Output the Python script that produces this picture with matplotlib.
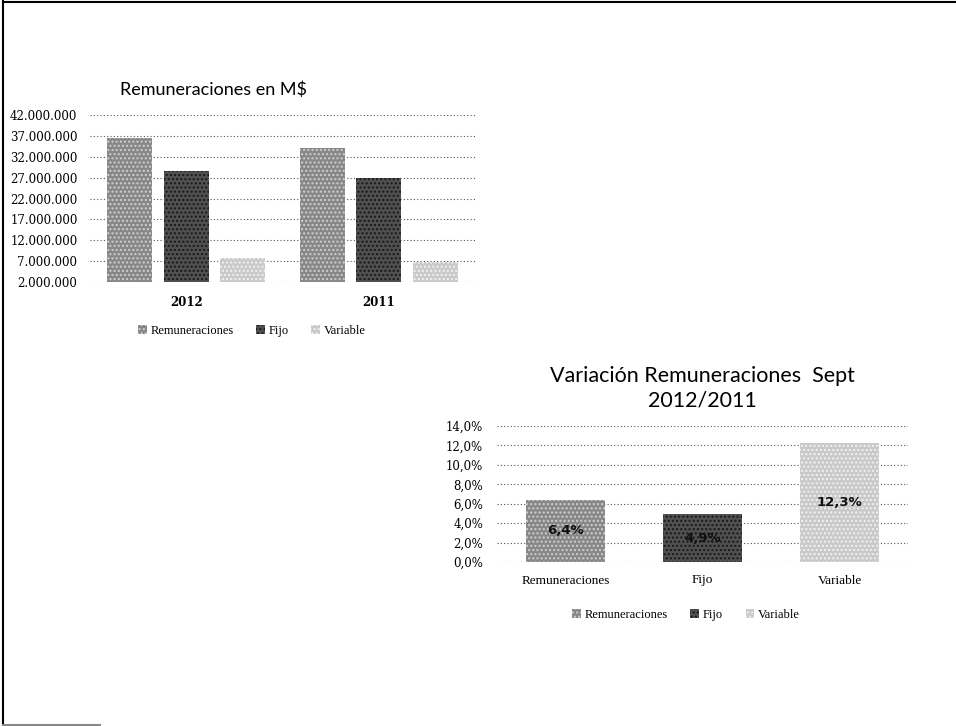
import matplotlib.pyplot as plt
from matplotlib.lines import Line2D
from matplotlib.ticker import FuncFormatter
import numpy as np

# remuneraciones por año (M$)
years = ['2012', '2011']
series = ['Remuneraciones', 'Fijo', 'Variable']
remuneraciones = [36400000, 34100000]
fijo = [28500000, 27000000]
variable = [7800000, 6700000]

# variación porcentual sept 2012/2011
var_labels = ['Remuneraciones', 'Fijo', 'Variable']
var_pct = [6.4, 4.9, 12.3]

colors = ['#878787', '#505050', '#c9c9c9']
hatch_cols = ['#d0d0d0', '#181818', '#f2f2f2']

serif = 'DejaVu Serif'
sans = 'Lato'

W, H = 956, 726
fig = plt.figure(figsize=(W / 100, H / 100), dpi=100)


def px_axes(x0, x1, ytop, ybot):
    return fig.add_axes([x0 / W, 1 - ybot / H, (x1 - x0) / W, (ybot - ytop) / H])


def style_axes(ax):
    for s in ax.spines.values():
        s.set_visible(False)
    ax.tick_params(length=0)
    ax.yaxis.grid(True, color='#555555', linestyle=(0, (1, 2)), linewidth=0.8)
    ax.set_axisbelow(True)


# --- Remuneraciones en M$ ---
ax1 = px_axes(90, 475, 115, 282)
x = np.arange(len(years))
w = 0.234
off = 0.294
for i, vals in enumerate([remuneraciones, fijo, variable]):
    ax1.bar(x + (i - 1) * off, vals, w, color=colors[i], edgecolor=hatch_cols[i],
            linewidth=0, hatch='....', label=series[i])
ax1.set_xlim(-0.5, 1.5)
ax1.set_ylim(2000000, 42000000)
ax1.set_yticks(np.arange(2000000, 42000001, 5000000))
ax1.yaxis.set_major_formatter(FuncFormatter(lambda v, p: f'{v:,.0f}'.replace(',', '.')))
ax1.set_xticks(x)
ax1.set_xticklabels(years, fontfamily=serif, fontsize=8.5, fontweight='bold')
for lab in ax1.get_yticklabels():
    lab.set_fontfamily(serif)
    lab.set_fontsize(8.5)
ax1.tick_params(axis='y', pad=9)
ax1.tick_params(axis='x', pad=10)
style_axes(ax1)
ax1.text(0.078, 1.1, 'Remuneraciones en M$', transform=ax1.transAxes, fontfamily=sans,
         fontsize=13, ha='left', va='bottom')
ax1.legend(loc='upper center', bbox_to_anchor=(0.42, -0.19), ncol=3, frameon=False,
           handlelength=0.7, handleheight=0.7, handletextpad=0.3, columnspacing=1.8,
           prop={'family': 'Liberation Serif', 'size': 9})

# --- Variación Remuneraciones Sept 2012/2011 ---
ax2 = px_axes(497, 908, 426, 562)
xv = np.arange(len(var_labels))
bars = ax2.bar(xv, var_pct, 0.58, color=colors, edgecolor=hatch_cols, linewidth=0,
               hatch='....')
for b, lab in zip(bars, var_labels):
    b.set_label(lab)
for b, v in zip(bars, var_pct):
    ax2.text(b.get_x() + b.get_width() / 2, v / 2, f'{v:.1f}%'.replace('.', ','),
             ha='center', va='center', fontsize=9.5, fontweight='bold',
             fontfamily='DejaVu Sans', color='#111111')
ax2.set_xlim(-0.5, 2.5)
ax2.set_ylim(0, 14)
ax2.set_yticks(np.arange(0, 14.1, 2))
ax2.yaxis.set_major_formatter(FuncFormatter(lambda v, p: f'{v:.1f}%'.replace('.', ',')))
ax2.set_xticks(xv)
ax2.set_xticklabels(var_labels, fontfamily='Liberation Serif', fontsize=9.5)
for lab in ax2.get_yticklabels():
    lab.set_fontfamily(serif)
    lab.set_fontsize(8.5)
ax2.tick_params(axis='y', pad=10)
ax2.tick_params(axis='x', pad=9)
style_axes(ax2)
ax2.set_title('Variación Remuneraciones  Sept\n2012/2011', fontfamily=sans, fontsize=15.5,
              pad=14, linespacing=1.3)
ax2.legend(loc='upper center', bbox_to_anchor=(0.46, -0.26), ncol=3, frameon=False,
           handlelength=0.7, handleheight=0.7, handletextpad=0.3, columnspacing=1.8,
           prop={'family': 'Liberation Serif', 'size': 9})

# borde de la página
fig.add_artist(Line2D([3 / W, 3 / W], [0, 1 - 1 / H], color='black', linewidth=1.5))
fig.add_artist(Line2D([3 / W, 1], [1 - 1.5 / H, 1 - 1.5 / H], color='black', linewidth=1.5))
fig.add_artist(Line2D([3 / W, 100 / W], [1.5 / H, 1.5 / H], color='#888888', linewidth=1.5))

fig.savefig('out.png', dpi=100)
